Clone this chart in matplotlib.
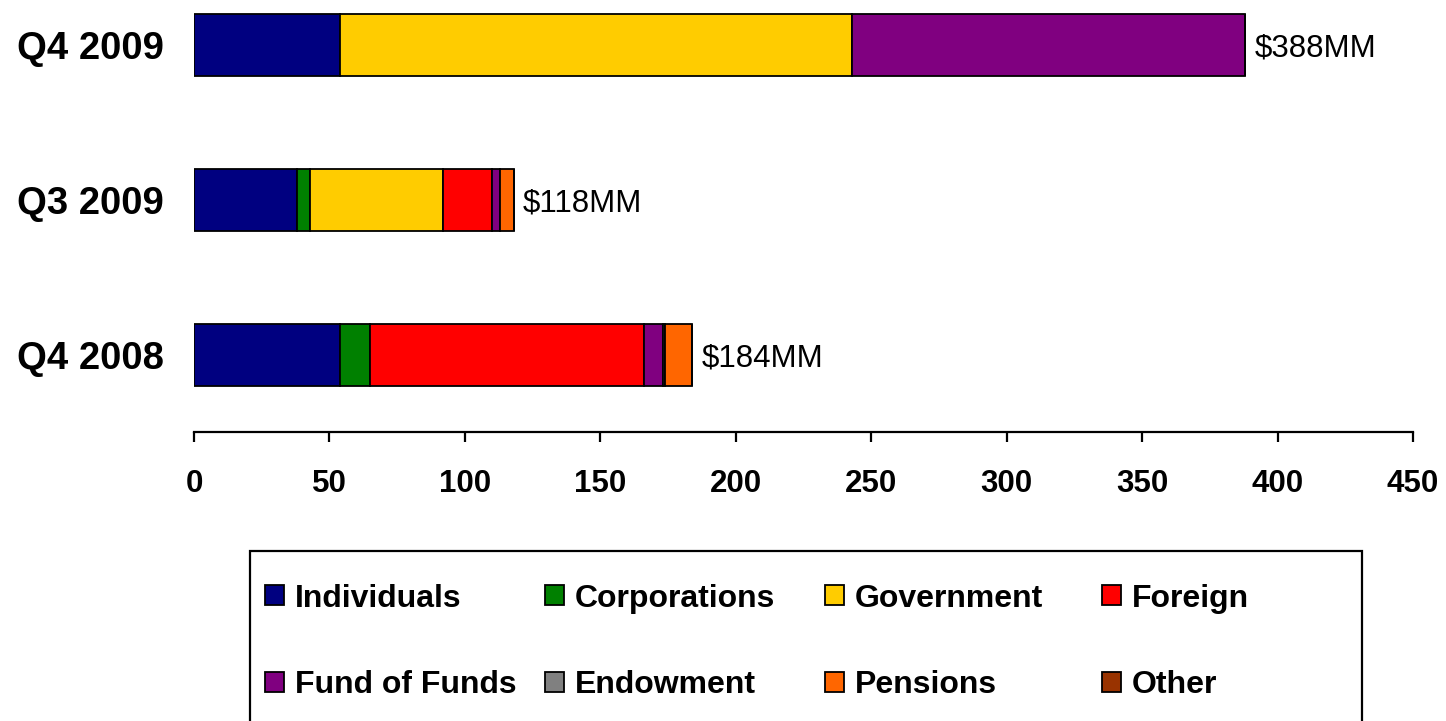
import matplotlib
matplotlib.use("Agg")
import matplotlib.pyplot as plt
import numpy as np
from matplotlib.patches import Rectangle, Patch

plt.rcParams['font.family'] = ['Liberation Sans', 'DejaVu Sans']

categories = ["Q4 2008", "Q3 2009", "Q4 2009"]
series_names = ["Individuals", "Corporations", "Government", "Foreign",
                "Fund of Funds", "Endowment", "Pensions", "Other"]
colors = ["#000080", "#008000", "#FFCC00", "#FF0000",
          "#800080", "#808080", "#FF6600", "#993300"]
individuals = [54, 38, 54]
corporations = [11, 5, 0]
government = [0, 49, 189]
foreign = [101, 18, 0]
fund_of_funds = [7, 3, 145]
endowment = [1, 0, 0]
pensions = [10, 5, 0]
other = [0, 0, 0]
totals = [184, 118, 388]
total_labels = ["$184MM", "$118MM", "$388MM"]
xticks = [0, 50, 100, 150, 200, 250, 300, 350, 400, 450]

series = [individuals, corporations, government, foreign,
          fund_of_funds, endowment, pensions, other]

W, H = 1446, 721
fig = plt.figure(figsize=(W / 100, H / 100), dpi=100)
ax = fig.add_axes([194 / W, 1 - 432 / H, (1413 - 194) / W, 432 / H])

y = np.arange(len(categories))
left = np.zeros(len(categories))
handles = []
for name, vals, c in zip(series_names, series, colors):
    vals = np.array(vals, dtype=float)
    ax.barh(y, vals, left=left, height=0.4, color=c, edgecolor="black",
            linewidth=1.3, zorder=3)
    left += vals
    handles.append(Patch(facecolor=c, edgecolor="black", linewidth=1.3, label=name))

for yi, t, lab in zip(y, totals, total_labels):
    ax.text(t + 3.5, yi, lab, va="center_baseline", ha="left", fontsize=22.5)

ax.set_xlim(0, 450)
ax.set_ylim(-77 / 155, 2 + 45 / 155)
ax.set_xticks(xticks)
ax.set_xticklabels([str(v) for v in xticks], fontsize=22.5, fontweight="bold")
ax.set_yticks(y)
ax.set_yticklabels(categories, fontsize=27.5, fontweight="bold")
for s in ["top", "right", "left"]:
    ax.spines[s].set_visible(False)
ax.spines["bottom"].set_linewidth(1.6)
ax.tick_params(axis="x", direction="out", length=7.5, width=1.6, pad=19)
ax.tick_params(axis="y", length=0, pad=22)

# legend frame
fig.patches.append(Rectangle((250 / W, -0.05), (1362 - 250) / W, 1 - 551 / H + 0.05,
                             transform=fig.transFigure, facecolor="none",
                             edgecolor="black", linewidth=1.6))
col_x = [265, 545, 825, 1102]
for j in range(4):
    fig.legend(handles=[handles[j], handles[j + 4]], loc="center left",
               bbox_to_anchor=(col_x[j] / W, 1 - 642 / H), frameon=False,
               prop={"weight": "bold", "size": 23},
               handlelength=0.6, handleheight=0.6, handletextpad=0.34,
               borderpad=0, borderaxespad=0, labelspacing=1.78)

fig.savefig("out.png", dpi=100)
